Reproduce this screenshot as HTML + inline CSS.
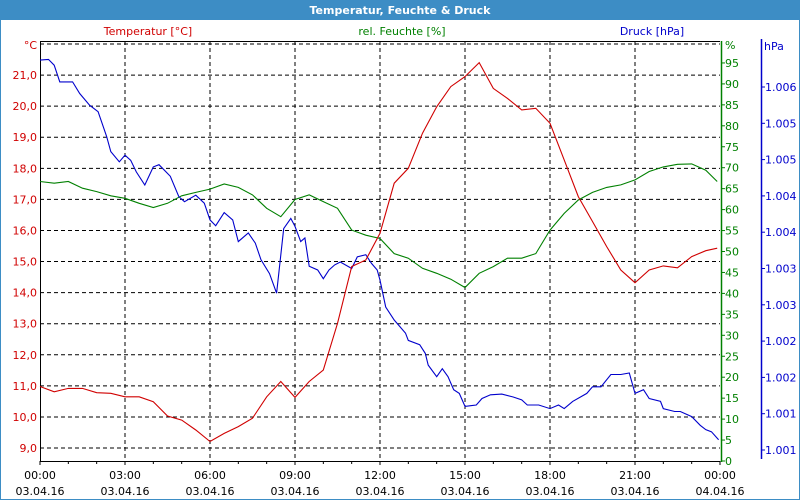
<!DOCTYPE html>
<html><head><meta charset="utf-8"><style>
body{margin:0;width:800px;height:500px;overflow:hidden;background:#fff;font-family:Tahoma,"DejaVu Sans","Liberation Sans",sans-serif;}
</style></head><body>
<svg id="c" width="800" height="500" xmlns="http://www.w3.org/2000/svg" style="font-family:'DejaVu Sans','Liberation Sans',sans-serif;font-size:11px">
<rect x="0" y="0" width="800" height="500" fill="#fff" stroke="#3d8dc5" stroke-width="2"/>
<rect x="0" y="0" width="800" height="20" fill="#3d8dc5"/>
<text x="400" y="14" text-anchor="middle" fill="#fff" font-weight="bold" font-size="11">Temperatur, Feuchte &amp; Druck</text>
<text x="148" y="35" text-anchor="middle" fill="#d00000">Temperatur [°C]</text>
<text x="402" y="35" text-anchor="middle" fill="#008000">rel. Feuchte [%]</text>
<text x="652" y="35" text-anchor="middle" fill="#0000cc">Druck [hPa]</text>
<g id="grid"></g><g id="axes"></g><g id="series"></g>
</svg>
<script>
const hourTicks=[0,3,6,9,12,15,18,21,24];
const timeLabels=["00:00","03:00","06:00","09:00","12:00","15:00","18:00","21:00","00:00"];
const dateLabels=["03.04.16","03.04.16","03.04.16","03.04.16","03.04.16","03.04.16","03.04.16","03.04.16","04.04.16"];
const tempTicks=[21,20,19,18,17,16,15,14,13,12,11,10,9];
const humTicks=[95,90,85,80,75,70,65,60,55,50,45,40,35,30,25,20,15,10,5,0];
const presTicks=[1006.0,1005.5,1005.0,1004.5,1004.0,1003.5,1003.0,1002.5,1002.0,1001.5,1001.0];
const presLabels=["1.006","1.005","1.005","1.004","1.004","1.003","1.003","1.002","1.002","1.001","1.001"];
const tempValues=[10.98,10.81,10.92,10.92,10.78,10.76,10.65,10.65,10.49,10.03,9.90,9.58,9.21,9.47,9.69,9.96,10.65,11.14,10.63,11.14,11.51,13.01,14.84,15.05,15.91,17.52,18.00,19.13,19.98,20.63,20.95,21.40,20.57,20.25,19.88,19.93,19.45,18.27,17.09,16.29,15.48,14.73,14.32,14.73,14.86,14.80,15.16,15.35,15.43];
const humValues=[66.7,66.3,66.7,65.1,64.3,63.3,62.7,61.5,60.5,61.5,63.3,64.1,64.9,66.1,65.3,63.5,60.3,58.3,62.4,63.5,61.9,60.3,55.1,53.9,53.1,49.5,48.4,46.0,44.8,43.4,41.4,44.8,46.4,48.4,48.4,49.5,55.1,59.1,62.3,64.1,65.3,65.9,67.1,69.1,70.2,70.8,70.9,69.4,66.7];
const presHours=[0,0.3,0.5,0.7,0.85,1.15,1.4,1.75,2.05,2.35,2.5,2.8,3.0,3.2,3.4,3.7,4.0,4.2,4.6,4.9,5.1,5.5,5.8,6.0,6.2,6.5,6.8,7.0,7.35,7.6,7.8,8.1,8.35,8.6,8.85,9.0,9.2,9.35,9.5,9.8,10.0,10.2,10.4,10.6,11.0,11.2,11.5,11.7,11.9,12.0,12.2,12.5,12.9,13.0,13.4,13.6,13.7,14.0,14.2,14.4,14.6,14.8,15.0,15.2,15.4,15.6,15.9,16.3,16.7,17.0,17.2,17.6,18.0,18.3,18.5,18.8,19.3,19.5,19.8,20.15,20.5,20.8,21.0,21.3,21.5,21.9,22.0,22.4,22.6,23.0,23.3,23.5,23.7,23.95];
const presValues=[1006.37,1006.38,1006.30,1006.07,1006.07,1006.07,1005.91,1005.75,1005.66,1005.32,1005.11,1004.97,1005.06,1004.99,1004.83,1004.65,1004.90,1004.93,1004.77,1004.49,1004.42,1004.51,1004.40,1004.17,1004.09,1004.27,1004.17,1003.87,1003.99,1003.85,1003.62,1003.43,1003.16,1004.05,1004.19,1004.08,1003.87,1003.92,1003.53,1003.48,1003.36,1003.48,1003.55,1003.59,1003.50,1003.66,1003.69,1003.57,1003.48,1003.34,1002.97,1002.79,1002.61,1002.51,1002.45,1002.33,1002.17,1002.01,1002.12,1002.01,1001.83,1001.78,1001.60,1001.61,1001.62,1001.71,1001.76,1001.77,1001.73,1001.69,1001.62,1001.62,1001.57,1001.62,1001.57,1001.67,1001.78,1001.87,1001.87,1002.04,1002.04,1002.06,1001.78,1001.83,1001.71,1001.67,1001.57,1001.53,1001.53,1001.46,1001.34,1001.28,1001.25,1001.14];

const X0=40,X1=720,Y0=41,Y1=461;
const xS=h=>X0+h*(X1-X0)/24;
const tS=v=>44+(22-v)*31.08;
const hS=v=>461-v*4.19;
const pS=v=>87+(1006-v)*72.6;
const NS="http://www.w3.org/2000/svg";
function mk(tag,attrs,parent){const e=document.createElementNS(NS,tag);for(const k in attrs)e.setAttribute(k,attrs[k]);parent.appendChild(e);return e;}
const grid=document.getElementById('grid'),axes=document.getElementById('axes'),ser=document.getElementById('series');
// horizontal grid (temperature)
[22].concat(tempTicks).forEach(v=>{const l=mk('line',{x1:X0,x2:X1,y1:tS(v),y2:tS(v),stroke:'#000','stroke-dasharray':'4,3','stroke-width':1},grid);

});
hourTicks.slice(1,-1).forEach(h=>{const l=mk('line',{x1:xS(h),x2:xS(h),y1:Y0,y2:Y1,stroke:'#000','stroke-dasharray':'4,3','stroke-width':1},grid);

});
// plot frame
let f=mk('path',{d:`M${X0},${Y0+0.5}H${X1}M${X0+0.5},${Y0}V${Y1}M${X0},${Y1+0.5}H${X1}`,stroke:'#000',fill:'none'},axes);


let ga=mk('line',{x1:X1+1.5,x2:X1+1.5,y1:Y0,y2:Y1+1,stroke:'#008000','stroke-width':1.5},axes);


let ba=mk('line',{x1:761.5,x2:761.5,y1:Y0-2,y2:459,stroke:'#0000cc','stroke-width':1.5},axes);


// left temp labels
tempTicks.forEach(v=>{const t=mk('text',{x:37,y:tS(v)+4,'text-anchor':'end',fill:'#d00000'},axes);t.textContent=v.toFixed(1).replace('.',',');

});
let u1=mk('text',{x:37,y:49,'text-anchor':'end',fill:'#d00000'},axes);u1.textContent='°C';


// humidity
humTicks.forEach(v=>{const tk=mk('line',{x1:X1+1,x2:X1+5,y1:hS(v),y2:hS(v),stroke:'#008000'},axes);


const t=mk('text',{x:X1+5,y:hS(v)+4,fill:'#008000'},axes);t.textContent=v;

});
let u2=mk('text',{x:X1+5,y:49,fill:'#008000'},axes);u2.textContent='%';


// pressure
presTicks.forEach((v,i)=>{const tk=mk('line',{x1:761,x2:765,y1:pS(v),y2:pS(v),stroke:'#0000cc'},axes);


const t=mk('text',{x:765,y:pS(v)+4,fill:'#0000cc'},axes);t.textContent=presLabels[i];

});
let u3=mk('text',{x:764,y:50,fill:'#0000cc'},axes);u3.textContent='hPa';


// x axis
for(let h=0;h<=24;h++){const tk=mk('line',{x1:xS(h),x2:xS(h),y1:Y1,y2:Y1+(h%3===0?4:3),stroke:'#000'},axes);

}
hourTicks.forEach((h,i)=>{const t=mk('text',{x:xS(h),y:479,'text-anchor':'middle',fill:'#000'},axes);t.textContent=timeLabels[i];


const d=mk('text',{x:xS(h),y:495,'text-anchor':'middle',fill:'#000'},axes);d.textContent=dateLabels[i];

});
// series
function line(xs,ys,color,name){const d=xs.map((x,i)=>(i?'L':'M')+x.toFixed(1)+','+ys[i].toFixed(1)).join('');
const p=mk('path',{d:d,fill:'none',stroke:color,'stroke-width':1.1},ser);

}
const half=tempValues.map((v,i)=>Math.min(i*0.5,23.9));
line(half.map(xS),humValues.map(hS),'#008000','humidity-line');
line(presHours.map(xS),presValues.map(pS),'#0000cc','pressure-line');
line(half.map(xS),tempValues.map(tS),'#d00000','temperature-line');
</script>
</body></html>
